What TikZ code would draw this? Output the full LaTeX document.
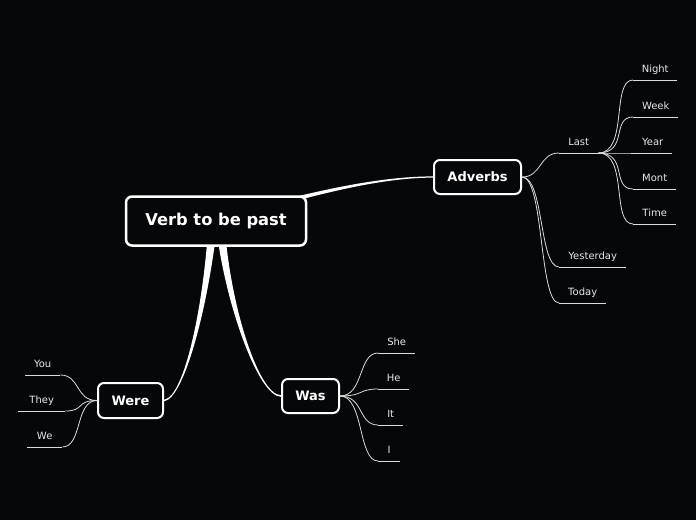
\documentclass[tikz,border=0pt]{standalone}
\usepackage{fontspec}
\setmainfont{DejaVu Sans}
\usetikzlibrary{calc,backgrounds}
\definecolor{mybg}{RGB}{6,7,9}
\definecolor{myline}{RGB}{220,220,220}
\definecolor{mytext}{RGB}{232,232,232}
\tikzset{
  topic/.style={draw=white, fill=mybg, text=white, rounded corners=6pt, line width=2pt, font=\bfseries\fontsize{13}{15}\selectfont},
  leaf/.style={anchor=south west, text=mytext, inner xsep=0pt, inner ysep=4.5pt, text height=7.5pt, text depth=2.5pt, minimum width=#1, font=\fontsize{10}{12}\selectfont},
  branch/.style={draw=myline, line width=0.8pt},
}

\begin{document}
\begin{tikzpicture}[x=1pt,y=-1pt]
% topics
\node[topic, line width=2.5pt, minimum width=180pt, minimum height=49pt, font=\bfseries\fontsize{16.3}{19}\selectfont] (main) at (216,221) {Verb to be past};
\node[topic, minimum width=87pt, minimum height=34pt] (adverbs) at (477.5,177) {Adverbs};
\node[topic, minimum width=65pt, minimum height=35pt] (were) at (130.5,400.5) {Were};
\node[topic, minimum width=57pt, minimum height=34pt] (was) at (310.5,396) {Was};

% adverbs
\node[leaf=39pt] (last) at (559,153) {Last};
\node[leaf=44pt] (night) at (633,80) {Night};
\node[leaf=45pt] (week) at (633,117) {Week};
\node[leaf=39pt] (year) at (633,153) {Year};
\node[leaf=43pt] (mont) at (633,189) {Mont};
\node[leaf=43pt] (time) at (633,224) {Time};
\node[leaf=67pt] (yesterday) at (559,267) {Yesterday};
\node[leaf=47pt] (today) at (559,303) {Today};

% was
\node[leaf=37pt] (she) at (378,353) {She};
\node[leaf=31pt] (he) at (378,389) {He};
\node[leaf=25pt] (it) at (378,425) {It};
\node[leaf=22pt] (iword) at (378,461) {I};

% were
\node[leaf=35pt] (you) at (25,375) {You};
\node[leaf=47pt] (they) at (18,411) {They};
\node[leaf=35pt] (we) at (27,447) {We};

\foreach \n in {last,night,week,year,mont,time,yesterday,today,she,he,it,iword,you,they,we}
  \draw[branch] (\n.south west) -- (\n.south east);

\draw[branch] (adverbs.east) .. controls +(20,0) and +(-20,0) .. (last.south west);
\draw[branch] (adverbs.east) .. controls +(22,0) and +(-20,0) .. (yesterday.south west);
\draw[branch] (adverbs.east) .. controls +(22,0) and +(-20,0) .. (today.south west);
\foreach \n in {night,week,year,mont,time}
  \draw[branch] (last.south east) .. controls +(30,0) and +(-22,0) .. (\n.south west);
\foreach \n in {she,he,it,iword}
  \draw[branch] (was.east) .. controls +(24,0) and +(-20,0) .. (\n.south west);
\foreach \n in {you,they,we}
  \draw[branch] (were.west) .. controls +(-22,0) and +(20,0) .. (\n.south east);

\begin{scope}[on background layer]
\fill[mybg] (0,0) rectangle (696,520);
% main -> adverbs
\fill[white] ($(main.center)+(0,-3)$) .. controls (312,190.5) and (380,176.3) .. ($(adverbs.west)+(0,-0.6)$)
  -- ($(adverbs.west)+(0,0.6)$) .. controls (380,177.7) and (312,194.5) .. ($(main.center)+(0,3)$) -- cycle;
% main -> were
\fill[white] ($(main.center)+(1.5,0)$) .. controls (209.5,300) and (185,398.8) .. ($(were.east)+(0,0.8)$)
  -- ($(were.east)+(0,-0.8)$) .. controls (185,397.2) and (204.5,300) .. ($(main.center)+(-7.5,0)$) -- cycle;
% main -> was
\fill[white] ($(main.center)+(8.5,0)$) .. controls (228.5,300) and (258,395.2) .. ($(was.west)+(0,-0.8)$)
  -- ($(was.west)+(0,0.8)$) .. controls (258,396.8) and (223.5,300) .. ($(main.center)+(-0.5,0)$) -- cycle;
\end{scope}
\end{tikzpicture}
\end{document}
